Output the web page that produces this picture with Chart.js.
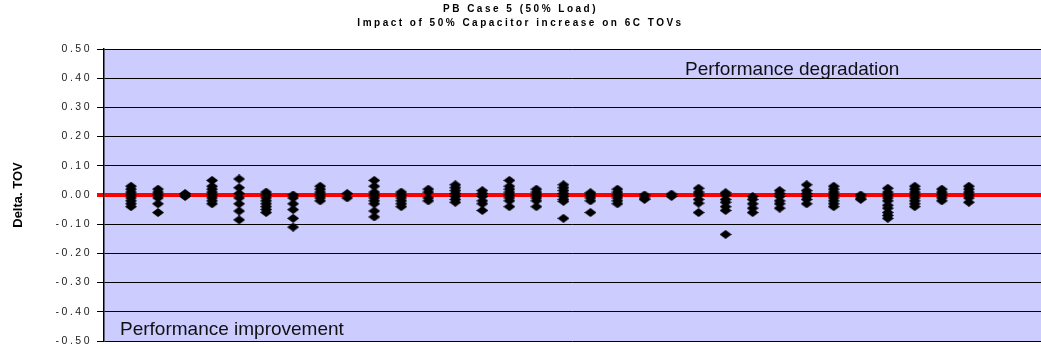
<!DOCTYPE html>
<html><head><meta charset="utf-8">
<script src="https://cdn.jsdelivr.net/npm/chart.js@4/dist/chart.umd.min.js"></script>
<style>html,body{margin:0;padding:0;background:#fff;}#wrap{width:1041px;height:349px;}</style>
</head><body><div id="wrap"><canvas id="c" width="1041" height="349"></canvas></div>
<script>
const titleLines = ['PB Case 5 (50% Load)', 'Impact of 50% Capacitor increase on 6C TOVs'];
const yAxisTitle = 'Delta. TOV';
const noteTop = 'Performance degradation';
const noteBottom = 'Performance improvement';
const yMin = -0.5, yMax = 0.5, yStep = 0.1;

// Delta TOV values per case column (1..32)
const c1 = [0.03, 0.02, 0.01, 0.00, -0.01, -0.02, -0.03, -0.04];
const c2 = [0.02, 0.01, 0.00, -0.01, -0.03, -0.06];
const c3 = [0.005, 0.00, -0.005];
const c4 = [0.05, 0.03, 0.02, 0.01, 0.00, -0.01, -0.02, -0.03];
const c5 = [0.055, 0.025, 0.005, -0.01, -0.03, -0.055, -0.085];
const c6 = [0.01, 0.00, -0.01, -0.02, -0.03, -0.04, -0.05, -0.06];
const c7 = [0.00, -0.01, -0.03, -0.05, -0.08, -0.11];
const c8 = [0.03, 0.02, 0.01, 0.00, -0.01, -0.02];
const c9 = [0.005, -0.01];
const c10 = [0.05, 0.03, 0.01, 0.00, -0.01, -0.02, -0.03, -0.055, -0.075];
const c11 = [0.01, 0.00, -0.01, -0.02, -0.03, -0.04];
const c12 = [0.02, 0.01, -0.01, -0.02];
const c13 = [0.035, 0.025, 0.015, 0.005, -0.005, -0.015, -0.025];
const c14 = [0.015, 0.005, -0.005, -0.02, -0.03, -0.053];
const c15 = [0.05, 0.03, 0.02, 0.01, 0.00, -0.01, -0.02, -0.04];
const c16 = [0.02, 0.01, 0.00, -0.01, -0.02, -0.04];
const c17 = [0.035, 0.025, 0.015, 0.005, -0.005, -0.015, -0.022, -0.08];
const c18 = [0.008, 0.00, -0.01, -0.02, -0.06];
const c19 = [0.02, 0.01, 0.00, -0.01, -0.02, -0.03];
const c20 = [0.00, -0.01, -0.015];
const c21 = [0.003, -0.005];
const c22 = [0.023, 0.01, 0.00, -0.015, -0.028, -0.06];
const c23 = [0.008, 0.00, -0.015, -0.025, -0.04, -0.053, -0.135];
const c24 = [-0.005, -0.015, -0.03, -0.045, -0.06];
const c25 = [0.015, 0.005, -0.005, -0.02, -0.03, -0.045];
const c26 = [0.035, 0.015, 0.005, -0.005, -0.015, -0.03];
const c27 = [0.03, 0.02, 0.01, 0.00, -0.01, -0.02, -0.03, -0.04];
const c28 = [0.00, -0.01, -0.015];
const c29 = [0.023, 0.01, 0.00, -0.01, -0.02, -0.035, -0.045, -0.06, -0.07, -0.08];
const c30 = [0.03, 0.02, 0.01, 0.00, -0.01, -0.02, -0.03, -0.04];
const c31 = [0.02, 0.01, 0.00, -0.01, -0.02];
const c32 = [0.03, 0.02, 0.01, 0.00, -0.01, -0.025];
const columns = [c1,c2,c3,c4,c5,c6,c7,c8,c9,c10,c11,c12,c13,c14,c15,c16,c17,c18,c19,c20,c21,c22,c23,c24,c25,c26,c27,c28,c29,c30,c31,c32];

const points = [];
columns.forEach((col, i) => col.forEach(v => points.push({x: i + 1, y: v})));

// flattened diamond marker
const marker = document.createElement('canvas');
marker.width = 12; marker.height = 9;
(function(){
  const m = marker.getContext('2d');
  m.fillStyle = '#000';
  m.beginPath(); m.moveTo(6,0); m.lineTo(12,4.5); m.lineTo(6,9); m.lineTo(0,4.5); m.closePath(); m.fill();
})();

const decor = {
  id: 'decor',
  beforeDraw(chart) {
    const {ctx, chartArea: a} = chart;
    ctx.save();
    ctx.fillStyle = '#CCCCFF';
    ctx.fillRect(a.left, a.top, a.right - a.left, a.bottom - a.top);
    ctx.restore();
    ctx.letterSpacing = '2.5px';
  },
  beforeDatasetsDraw(chart) {
    chart.ctx.letterSpacing = '0px';
  },
  afterDraw(chart) {
    const {ctx, chartArea: a} = chart;
    const ys = chart.scales.y;
    ctx.save();
    ctx.letterSpacing = '0px';
    ctx.fillStyle = '#111';
    ctx.font = '19px "Liberation Sans", Arial, sans-serif';
    ctx.textAlign = 'left';
    ctx.textBaseline = 'alphabetic';
    ctx.fillText(noteTop, a.left + 581, ys.getPixelForValue(0.411));
    ctx.fillText(noteBottom, a.left + 16, ys.getPixelForValue(-0.48));
    ctx.translate(18, ys.getPixelForValue(0));
    ctx.rotate(-Math.PI / 2);
    ctx.textAlign = 'center';
    ctx.textBaseline = 'middle';
    ctx.fillStyle = '#000';
    ctx.font = 'bold 13px "Liberation Sans", Arial, sans-serif';
    ctx.fillText(yAxisTitle, 0, 0);
    ctx.restore();
  }
};

new Chart(document.getElementById('c'), {
  type: 'scatter',
  data: { datasets: [{
    data: points,
    pointStyle: marker,
    pointRadius: 5,
    pointHoverRadius: 5,
    backgroundColor: '#000',
    borderColor: '#000',
    showLine: false,
    clip: false
  }]},
  options: {
    responsive: false,
    animation: false,
    events: [],
    layout: { autoPadding: false, padding: { top: 0, right: 0, bottom: 8, left: 0 } },
    plugins: {
      legend: { display: false },
      tooltip: { enabled: false },
      title: {
        display: true,
        text: titleLines,
        color: '#000',
        font: { family: '"Liberation Sans", Arial, sans-serif', size: 10, weight: 'bold', lineHeight: 1.4 },
        padding: { top: 2, bottom: 19 }
      }
    },
    scales: {
      x: { type: 'linear', display: false, min: 0, max: 34.67 },
      y: {
        min: yMin, max: yMax,
        afterFit(s) { s.width = 104; s.paddingTop = 0; s.paddingBottom = 0; },
        ticks: {
          stepSize: yStep,
          color: '#222',
          padding: 5,
          font: { family: '"Liberation Sans", Arial, sans-serif', size: 10.5 },
          callback: v => v.toFixed(2)
        },
        grid: {
          color: c => Math.abs(c.tick.value) < 1e-9 ? '#FF0000' : '#000',
          lineWidth: c => Math.abs(c.tick.value) < 1e-9 ? 4 : 1,
          tickColor: c => Math.abs(c.tick.value) < 1e-9 ? '#FF0000' : '#000',
          tickLength: 7,
          drawOnChartArea: true
        },
        border: { display: true, color: '#000', width: 1.5 }
      }
    }
  },
  plugins: [decor]
});
</script></body></html>
